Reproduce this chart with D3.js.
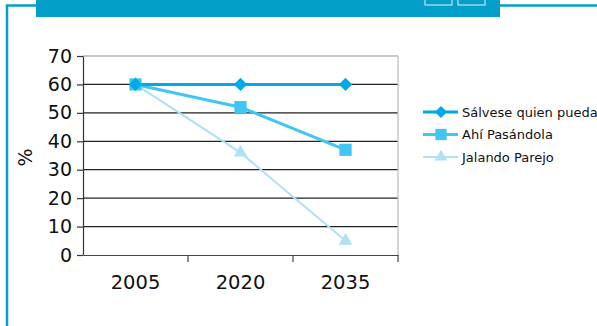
<!DOCTYPE html>
<html>
<head>
<meta charset="utf-8">
<script src="https://cdn.jsdelivr.net/npm/d3@7"></script>
<style>
  body { margin: 0; background: #fff; }
  svg { display: block; }
</style>
</head>
<body>
<script>
const years = ["2005", "2020", "2035"];
const salvese = [60, 60, 60];
const ahi = [60, 52, 37];
const jalando = [60, 36, 5];
const yTicks = [0, 10, 20, 30, 40, 50, 60, 70];

const series = [
    { name: "Sálvese quien pueda", values: salvese, color: "#00aae8", width: 3, symbol: d3.symbolSquare, size: 88, rotate: 45 },
    { name: "Ahí Pasándola", values: ahi, color: "#3fc6f4", width: 3, symbol: d3.symbolSquare, size: 150, rotate: 0 },
    { name: "Jalando Parejo", values: jalando, color: "#aee0f6", width: 2, symbol: d3.symbolTriangle, size: 80, rotate: 0 }
];

const width = 597, height = 326;
const plot = { left: 83, right: 398, top: 56, bottom: 255 };

const svg = d3.select("body").append("svg")
    .attr("width", width)
    .attr("height", height);

// frame and banner
const frameColor = "#049fc8";
svg.append("path")
    .attr("d", "M7,326 V5.5 H36")
    .attr("fill", "none")
    .attr("stroke", frameColor)
    .attr("stroke-width", 2.5);
svg.append("path")
    .attr("d", "M500,5.5 H597")
    .attr("fill", "none")
    .attr("stroke", frameColor)
    .attr("stroke-width", 2.5);
svg.append("rect")
    .attr("x", 36).attr("y", 0)
    .attr("width", 464).attr("height", 17)
    .attr("fill", frameColor);
[425, 458].forEach(x => {
    svg.append("rect")
        .attr("x", x).attr("y", -2)
        .attr("width", 27).attr("height", 7)
        .attr("fill", "none")
        .attr("stroke", "#dff3f9")
        .attr("stroke-width", 1);
});

const x = d3.scaleBand()
    .domain(years)
    .range([plot.left, plot.right]);

const y = d3.scaleLinear()
    .domain([0, 70])
    .range([plot.bottom, plot.top]);

// gridlines
svg.append("g")
    .selectAll("line")
    .data(yTicks.slice(1))
    .enter().append("line")
    .attr("x1", plot.left).attr("x2", plot.right)
    .attr("y1", d => y(d)).attr("y2", d => y(d))
    .attr("stroke", d => d === 70 ? "#8a9196" : "#222")
    .attr("stroke-width", 1.2);

svg.append("line")
    .attr("x1", plot.right).attr("x2", plot.right)
    .attr("y1", plot.top).attr("y2", plot.bottom)
    .attr("stroke", "#b8bcbf")
    .attr("stroke-width", 1.2);

// y axis
const yAxis = svg.append("g")
    .attr("transform", `translate(${plot.left},0)`)
    .call(d3.axisLeft(y).tickValues(yTicks).tickSize(6).tickSizeOuter(0).tickPadding(5));
yAxis.select(".domain").attr("stroke", "#333").attr("stroke-width", 1.2);
yAxis.selectAll(".tick line").attr("stroke", "#333").attr("stroke-width", 1.2);
yAxis.selectAll("text")
    .attr("font-family", "'DejaVu Sans', sans-serif")
    .attr("font-size", "19px")
    .attr("fill", "#111");

// x axis
const xAxis = svg.append("g")
    .attr("transform", `translate(0,${plot.bottom})`)
    .call(d3.axisBottom(x).tickSize(0).tickPadding(20));
xAxis.select(".domain").attr("stroke", "#444").attr("stroke-width", 1.2);
xAxis.selectAll("text")
    .attr("font-family", "'DejaVu Sans', sans-serif")
    .attr("font-size", "19.5px")
    .attr("fill", "#111");

// band separators
svg.append("g")
    .selectAll("line")
    .data(years.slice(1).concat(["end"]))
    .enter().append("line")
    .attr("x1", d => d === "end" ? plot.right : x(d))
    .attr("x2", d => d === "end" ? plot.right : x(d))
    .attr("y1", plot.bottom)
    .attr("y2", plot.bottom + 7)
    .attr("stroke", "#444")
    .attr("stroke-width", 1.2);

svg.append("text")
    .attr("transform", `translate(32,${(plot.top + plot.bottom) / 2 + 2}) rotate(-90)`)
    .attr("text-anchor", "middle")
    .attr("font-family", "'DejaVu Sans', sans-serif")
    .attr("font-size", "19px")
    .attr("fill", "#111")
    .text("%");

// lines and markers, drawn from the back
const line = d3.line()
    .x((d, i) => x(years[i]) + x.bandwidth() / 2)
    .y(d => y(d));

series.slice().reverse().forEach(s => {
    svg.append("path")
        .attr("d", line(s.values))
        .attr("fill", "none")
        .attr("stroke", s.color)
        .attr("stroke-width", s.width);
});
series.slice().reverse().forEach(s => {
    svg.append("g")
        .selectAll("path")
        .data(s.values)
        .enter().append("path")
        .attr("transform", (d, i) => `translate(${x(years[i]) + x.bandwidth() / 2},${y(d)}) rotate(${s.rotate})`)
        .attr("d", d3.symbol().type(s.symbol).size(s.size))
        .attr("fill", s.color);
});

// legend
const legend = svg.append("g")
    .attr("transform", "translate(423,112)");
series.forEach((s, i) => {
    const g = legend.append("g")
        .attr("transform", `translate(0,${i * 22.5})`);
    g.append("line")
        .attr("x1", 0).attr("x2", 35)
        .attr("stroke", s.color)
        .attr("stroke-width", s.width);
    g.append("path")
        .attr("transform", `translate(18,0) rotate(${s.rotate})`)
        .attr("d", d3.symbol().type(s.symbol).size(s.size * 0.85))
        .attr("fill", s.color);
    g.append("text")
        .attr("x", 39)
        .attr("dy", "0.35em")
        .attr("font-family", "'DejaVu Sans', sans-serif")
        .attr("font-size", "13px")
        .attr("fill", "#111")
        .text(s.name);
});
</script>
</body>
</html>
